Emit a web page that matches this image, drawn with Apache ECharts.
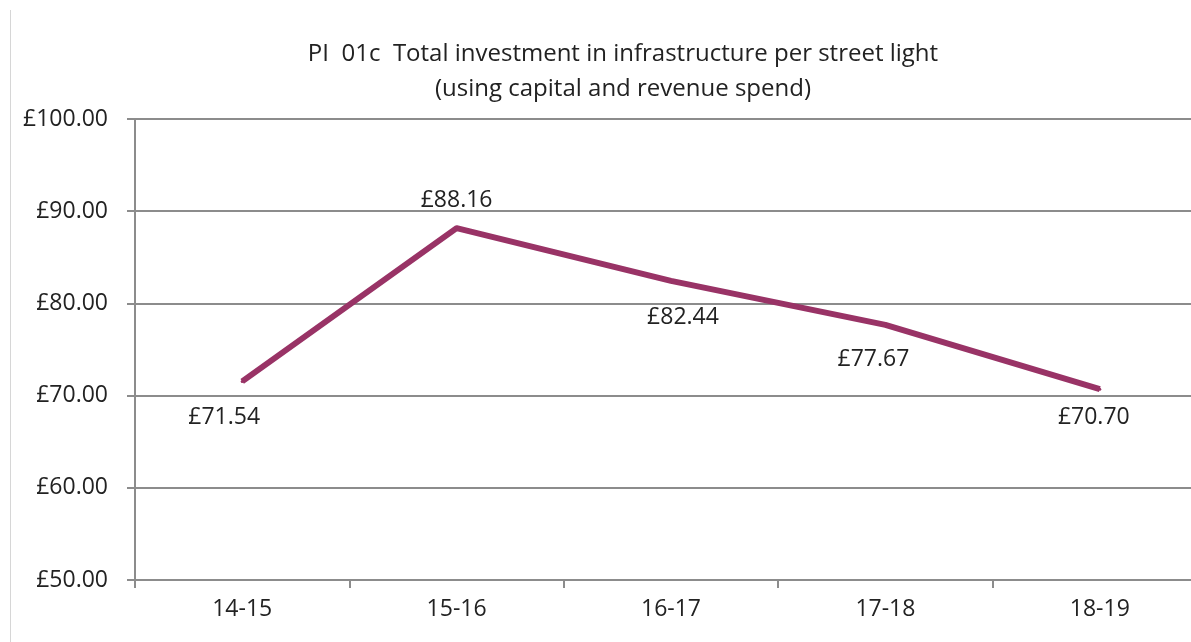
<!DOCTYPE html>
<html>
<head>
<meta charset="utf-8">
<script src="https://cdn.jsdelivr.net/npm/echarts@6/dist/echarts.min.js"></script>
<style>
  html, body { margin: 0; padding: 0; background: #fff; }
  #chart { width: 1191px; height: 642px; }
</style>
</head>
<body>
<div id="chart"></div>
<script>
// PI 01c — total investment per street light, by financial year
const years = ['14-15', '15-16', '16-17', '17-18', '18-19']
const investment = [71.54, 88.16, 82.44, 77.67, 70.70]
const yTicks = { min: 50, max: 100, step: 10 }

// label placement per point (Excel put most of them below the line)
const labelPos = ['bottom', 'top', 'bottom', 'bottom', 'bottom']
const labelShift = [[-18, 18], [0, -10], [12, 19], [-12, 17], [-6, 10]]

const FONT = '"Open Sans", "Noto Sans", sans-serif'
const LINE = '#993366'
const money = (v) => '£' + v.toFixed(2)

const chart = echarts.init(document.getElementById('chart'), null, { renderer: 'canvas' })

chart.setOption({
  animation: false,
  backgroundColor: '#fff',
  textStyle: { fontFamily: FONT },
  title: {
    text: 'PI  01c  Total investment in infrastructure per street light\n(using capital and revenue spend)',
    left: 618,
    top: 32,
    textAlign: 'center',
    textStyle: { fontFamily: FONT, fontSize: 24, fontWeight: 'normal', color: '#222', lineHeight: 35 },
  },
  graphic: [
    { type: 'line', shape: { x1: 10.5, y1: 10, x2: 10.5, y2: 642 }, style: { stroke: '#d6d6d6', lineWidth: 1 } },
  ],
  // v6 keeps labels inside the box by default; the plot runs past the right edge here
  grid: { left: 135, top: 119, width: 1072, height: 461, containLabel: false, outerBoundsMode: 'none' },
  xAxis: {
    type: 'category',
    data: years,
    boundaryGap: true,
    axisLine: { lineStyle: { color: '#8c8c8c', width: 2 } },
    axisTick: { show: true, length: 8, lineStyle: { color: '#8c8c8c', width: 2 } },
    axisLabel: { color: '#222', fontSize: 23, fontFamily: FONT, margin: 18 },
  },
  yAxis: {
    type: 'value',
    min: yTicks.min,
    max: yTicks.max,
    interval: yTicks.step,
    axisLine: { show: true, lineStyle: { color: '#8c8c8c', width: 2 } },
    axisTick: { show: true, length: 8, lineStyle: { color: '#8c8c8c', width: 2 } },
    splitLine: { show: true, lineStyle: { color: '#8c8c8c', width: 2 } },
    axisLabel: { color: '#222', fontSize: 23, fontFamily: FONT, margin: 27, formatter: money },
  },
  series: [
    {
      type: 'line',
      data: investment.map((v, i) => ({
        value: v,
        label: { show: true, position: labelPos[i], offset: labelShift[i] },
      })),
      // labels need a symbol to hang on; keep it tiny, hidden under the line
      symbol: 'circle',
      symbolSize: 3,
      showSymbol: true,
      lineStyle: { color: LINE, width: 6, join: 'round' },
      itemStyle: { color: LINE },
      label: {
        show: true,
        color: '#222',
        fontSize: 23,
        fontFamily: FONT,
        formatter: (p) => money(p.value),
      },
    },
  ],
})
</script>
</body>
</html>
